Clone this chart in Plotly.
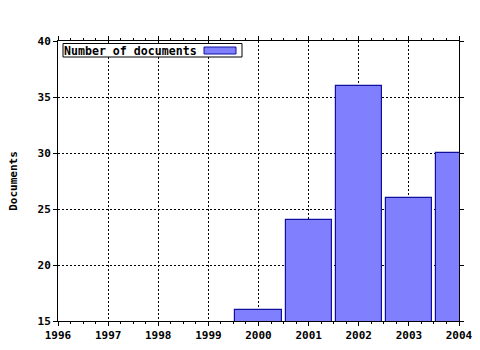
import plotly.graph_objects as go

years = [2000, 2001, 2002, 2003, 2004]
documents = [16, 24, 36, 26, 30]
x_tick_labels = ["1996", "1997", "1998", "1999", "2000", "2001", "2002", "2003", "2004"]
y_tick_values = [15, 20, 25, 30, 35, 40]
series_name = "Number of documents"
y_title = "Documents"

W, H = 480, 350
L, R, T, B = 58, 459, 41, 321

def px(xp):
    return (xp - L) / (R - L)

def py(yp):
    return (B - yp) / (B - T)

FONT = dict(family="DejaVu Sans Mono", size=11, color="black", weight="bold")
LEG_FONT = dict(family="DejaVu Sans Mono", size=11.6, color="black", weight="bold")

fig = go.Figure()
fig.add_trace(go.Bar(
    x=years, y=documents, width=0.92,
    marker=dict(color="#8080ff", line=dict(color="#1010a0", width=1.2)),
    name=series_name, showlegend=False,
))

fig.update_layout(
    width=W, height=H,
    margin=dict(l=L, r=W - R, t=T, b=H - B, pad=0, autoexpand=False),
    paper_bgcolor="white", plot_bgcolor="white",
    font=FONT,
    bargap=0,
    xaxis=dict(
        range=[1996, 2004], tickmode="array",
        tickvals=[int(t) for t in x_tick_labels], ticktext=x_tick_labels,
        showline=True, linecolor="black", linewidth=1, mirror="ticks",
        ticks="outside", ticklen=4, tickcolor="black",
        showgrid=True, gridcolor="black", griddash="2px,2px", gridwidth=1,
        zeroline=False, tickfont=FONT, automargin=False,
        minor=dict(dtick=0.25, tick0=1996, ticks="outside", ticklen=2, tickcolor="black", showgrid=False),
    ),
    yaxis=dict(
        range=[15, 40], tickmode="array", tickvals=y_tick_values,
        showline=True, linecolor="black", linewidth=1, mirror="ticks",
        ticks="outside", ticklen=4, tickcolor="black",
        showgrid=True, gridcolor="black", griddash="2px,2px", gridwidth=1,
        zeroline=False, tickfont=FONT, automargin=False,
        title=dict(text=y_title, font=FONT, standoff=17),
    ),
)

# legend box (text then swatch, as in the reference)
fig.add_shape(type="rect", xref="paper", yref="paper",
              x0=px(63), x1=px(242), y0=py(57), y1=py(43.5),
              line=dict(color="black", width=1), fillcolor="white", layer="above")
fig.add_shape(type="rect", xref="paper", yref="paper",
              x0=px(204), x1=px(236), y0=py(54), y1=py(47),
              line=dict(color="#1010a0", width=1), fillcolor="#8080ff", layer="above")
fig.add_annotation(text=series_name, xref="paper", yref="paper",
                   x=px(62), y=py(50.5), xanchor="left", yanchor="middle",
                   showarrow=False, font=LEG_FONT)

fig.write_html("out.html")
